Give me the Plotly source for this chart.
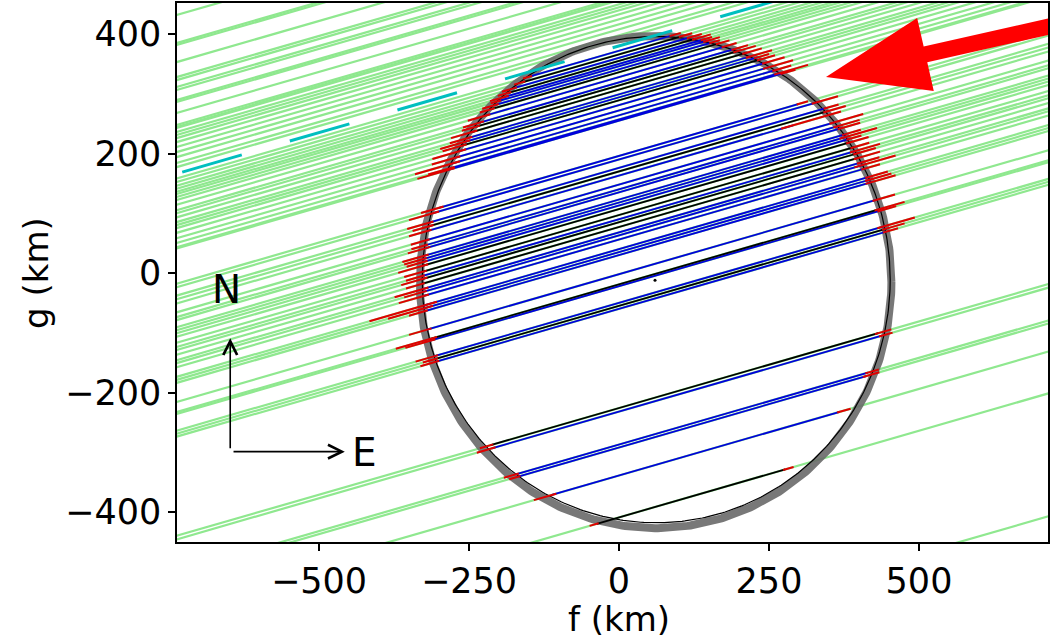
import numpy as np
import plotly.graph_objects as go

# ---------------- data (km) ----------------
SLOPE = 0.29            # chord direction dg/df (shadow motion)
F_SPAN = (-800.0, 800.0)

# negative chords (no occultation), intercept g at f = 0
neg_b = [645.5, 598.6, 595.3, 566.8, 541.7, 536.7, 525.0, 520.0, 503.2, 499.9,
         481.5, 461.4, 458.1, 456.4, 449.7, 444.7, 439.6, 432.9, 424.6, 416.2,
         407.8, 397.8, 391.1, -614.7]

# dashed cyan chord
cyan_b = 380.0
cyan_f_start = -728.0

# positive chords: intercept, ingress f, egress f, ingress error, egress error, colour
pos_b = [372, 366, 360, 355, 350, 346, 341, 336, 328, 319, 314, 307, 299, 294, 289,
         281, 272, 264, 257, 255,
         196, 190, 176, 170, 163, 148, 140, 135, 123, 118, 113, 107, 97, 90, 85, 77,
         68, 63, 56, 40, 35, 30,
         -2, -19, -22, -50, -55, -60,
         -226, -232, -287, -292, -339, -409]
pos_fin = [-148, -160, -175, -184, -190, -200, -206, -212, -222, -232, -238, -245, -252, -258, -262,
           -266, -274, -280, -283, -286,
           -300, -310, -318, -316, -320, -322, -324, -322, -326, -328, -326, -328, -328, -330, -328, -330,
           -329, -328, -327, -326, -325, -325,
           -320, -317, -316, -309, -307, -306,
           -214, -212, -172, -168, -112, -37]
pos_fout = [88, 104, 118, 128, 140, 146, 154, 166, 176, 193, 198, 212, 220, 230, 236,
            246, 250, 262, 270, 274,
            300, 330, 346, 348, 290, 362, 366, 372, 378, 380, 384, 386, 392, 395, 398, 400,
            404, 406, 410, 418, 419, 421,
            430, 436, 437, 443, 446, 445,
            432, 438, 415, 412, 368, 277]
pos_ein = [12, 15, 20, 18, 25, 14, 22, 20, 30, 28, 24, 35, 30, 40, 32,
           45, 38, 60, 35, 50,
           30, 40, 35, 28, 30, 25, 22, 30, 35, 30, 28, 40, 30, 25, 35, 25,
           45, 30, 40, 90, 60, 25,
           30, 55, 40, 30, 20, 25,
           18, 25, 20, 15, 30, 12]
pos_eout = [15, 18, 20, 25, 15, 22, 14, 18, 20, 22, 30, 26, 35, 20, 24,
            30, 40, 25, 45, 20,
            15, 35, 20, 30, 80, 45, 35, 30, 25, 50, 20, 30, 25, 40, 30, 35,
            30, 55, 25, 30, 35, 40,
            30, 40, 25, 50, 30, 20,
            22, 18, 18, 22, 18, 14]
pos_col = ['b', 'k', 'b', 'k', 'b', 'b', 'b', 'k', 'b', 'b', 'k', 'k', 'b', 'b', 'k',
           'b', 'b', 'b', 'b', 'b',
           'b', 'b', 'b', 'k', 'b', 'b', 'b', 'b', 'b', 'b', 'b', 'k', 'k', 'b', 'k', 'k',
           'b', 'b', 'b', 'b', 'b', 'b',
           'b', 'k', 'b', 'b', 'k', 'b',
           'k', 'b', 'b', 'b', 'b', 'k']

# fitted limb (ellipse) and its uncertainty band
ELL_F0, ELL_G0, ELL_A, ELL_B = 62.0, -11.0, 390.0, 407.0
BAND_F0, BAND_G0, BAND_A, BAND_B = 61.0, -15.0, 393.0, 412.0
CENTER = (60.0, -12.0)

# compass
N_TAIL, N_HEAD, N_LABEL = (-648, -296), (-648, -109), (-655, -28)
E_TAIL, E_HEAD, E_LABEL = (-645, -299), (-457, -299), (-425, -300)

# motion arrow
ARROW_TIP = (345.0, 328.0)
ARROW_DIR_PT = (635.0, 394.0)
ARROW_HEAD_LEN, ARROW_HEAD_W, ARROW_SHAFT_W, ARROW_LEN = 170.0, 125.0, 27.0, 700.0

X_RANGE = [-736.7, 715.0]
Y_RANGE = [-450.2, 451.9]
X_TICKS = [-500, -250, 0, 250, 500]
Y_TICKS = [-400, -200, 0, 200, 400]

FONT = "DejaVu Sans"

# ---------------- build ----------------
def chord_line(b, f0, f1):
    return [f0, f1, None], [b + SLOPE * f0, b + SLOPE * f1, None]

fig = go.Figure()

gx, gy = [], []
for b in neg_b + pos_b:
    x, y = chord_line(b, *F_SPAN)
    gx += x; gy += y
fig.add_trace(go.Scatter(x=gx, y=gy, mode="lines", line=dict(color="#8FE88F", width=2.2),
                         hoverinfo="skip", showlegend=False))

t = np.linspace(0, 2 * np.pi, 500)
fig.add_trace(go.Scatter(x=BAND_F0 + BAND_A * np.cos(t), y=BAND_G0 + BAND_B * np.sin(t),
                         mode="lines", line=dict(color="rgba(105,105,105,0.9)", width=8),
                         hoverinfo="skip", showlegend=False))
fig.add_trace(go.Scatter(x=ELL_F0 + ELL_A * np.cos(t), y=ELL_G0 + ELL_B * np.sin(t),
                         mode="lines", line=dict(color="black", width=1.2),
                         hoverinfo="skip", showlegend=False))

cx, cy = chord_line(cyan_b, cyan_f_start, F_SPAN[1])
fig.add_trace(go.Scatter(x=cx, y=cy, mode="lines",
                         line=dict(color="#00BFBF", width=3, dash="62px,50px"),
                         hoverinfo="skip", showlegend=False))

for colkey, colour in (("b", "#0000DD"), ("k", "black")):
    xs, ys = [], []
    for b, fi, fo, c in zip(pos_b, pos_fin, pos_fout, pos_col):
        if c == colkey:
            x, y = chord_line(b, fi, fo)
            xs += x; ys += y
    fig.add_trace(go.Scatter(x=xs, y=ys, mode="lines", line=dict(color=colour, width=1.8),
                             hoverinfo="skip", showlegend=False))

rx, ry = [], []
for b, fi, fo, ei, eo in zip(pos_b, pos_fin, pos_fout, pos_ein, pos_eout):
    x, y = chord_line(b, fi - ei, fi + 0.25 * ei)
    rx += x; ry += y
    x, y = chord_line(b, fo - 0.25 * eo, fo + eo)
    rx += x; ry += y
fig.add_trace(go.Scatter(x=rx, y=ry, mode="lines", line=dict(color="#E00000", width=2),
                         hoverinfo="skip", showlegend=False))

fig.add_trace(go.Scatter(x=[CENTER[0]], y=[CENTER[1]], mode="markers",
                         marker=dict(color="black", size=3), hoverinfo="skip", showlegend=False))

# motion arrow polygon
tip = np.array(ARROW_TIP)
d = np.array(ARROW_DIR_PT) - tip
d = d / np.linalg.norm(d)
n = np.array([-d[1], d[0]])
base = tip + ARROW_HEAD_LEN * d
tail = tip + ARROW_LEN * d
pts = [tip, base + n * ARROW_HEAD_W / 2, base + n * ARROW_SHAFT_W / 2, tail + n * ARROW_SHAFT_W / 2,
       tail - n * ARROW_SHAFT_W / 2, base - n * ARROW_SHAFT_W / 2, base - n * ARROW_HEAD_W / 2, tip]
fig.add_trace(go.Scatter(x=[p[0] for p in pts], y=[p[1] for p in pts], mode="lines",
                         fill="toself", fillcolor="#FF0000", line=dict(width=0, color="#FF0000"),
                         hoverinfo="skip", showlegend=False))

annotations = []
for tl, hd in ((N_TAIL, N_HEAD), (E_TAIL, E_HEAD)):
    annotations.append(dict(x=hd[0], y=hd[1], ax=tl[0], ay=tl[1], xref="x", yref="y",
                            axref="x", ayref="y", text="", showarrow=True, arrowhead=5,
                            arrowsize=1.7, arrowwidth=1.6, arrowcolor="black"))
annotations.append(dict(x=N_LABEL[0], y=N_LABEL[1], xref="x", yref="y", text="N", showarrow=False,
                        font=dict(family=FONT, size=39, color="black")))
annotations.append(dict(x=E_LABEL[0], y=E_LABEL[1], xref="x", yref="y", text="E", showarrow=False,
                        font=dict(family=FONT, size=39, color="black")))
annotations.append(dict(x=0.5075, y=-0.143, xref="paper", yref="paper", text="f (km)",
                        showarrow=False, yanchor="middle",
                        font=dict(family=FONT, size=34, color="black")))
annotations.append(dict(x=-0.1625, y=0.5, xref="paper", yref="paper", text="g (km)",
                        showarrow=False, textangle=-90, xanchor="center",
                        font=dict(family=FONT, size=34, color="black")))

def fmt(v):
    return ("\u2212" + str(-v)) if v < 0 else str(v)

axis_common = dict(showgrid=False, zeroline=False, showline=True, mirror=True, linecolor="black",
                   linewidth=1.5, ticks="outside", ticklen=7, tickwidth=1.5, tickcolor="black",
                   tickfont=dict(family=FONT, size=35, color="black"))

fig.update_layout(
    width=1052, height=639,
    margin=dict(l=177, r=4, t=3, b=97, autoexpand=False),
    paper_bgcolor="white", plot_bgcolor="white",
    xaxis=dict(range=X_RANGE, tickvals=X_TICKS, ticktext=[fmt(v) for v in X_TICKS], **axis_common),
    yaxis=dict(range=Y_RANGE, tickvals=Y_TICKS, ticktext=[fmt(v) for v in Y_TICKS], **axis_common),
    annotations=annotations,
    showlegend=False,
)

fig.write_html("out.html")
